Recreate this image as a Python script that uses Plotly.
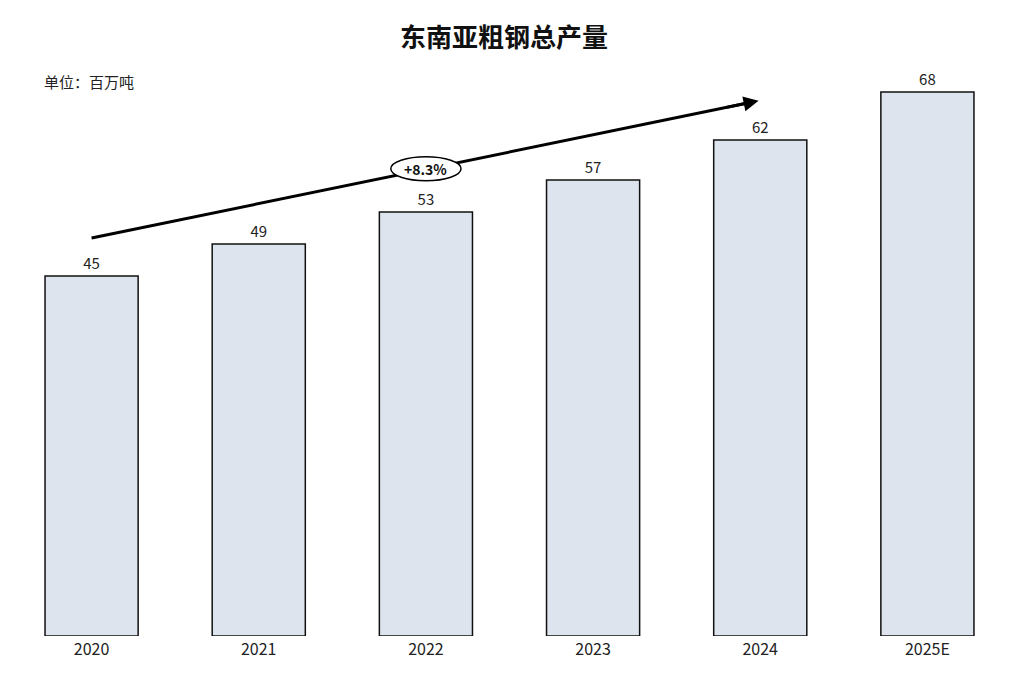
import plotly.graph_objects as go

years = ["2020", "2021", "2022", "2023", "2024", "2025E"]
production = [45, 49, 53, 57, 62, 68]
cagr_label = "+8.3%"
title_text = "东南亚粗钢总产量"
unit_text = "单位：百万吨"

FONT = "Noto Sans CJK SC, Microsoft YaHei, sans-serif"
xs = list(range(len(years)))

W, H = 1016, 676
L, R, T, B = 0, 13, 52, 48
pw, ph = W - L - R, H - T - B

fig = go.Figure()
fig.add_trace(go.Bar(
    x=xs, y=production,
    width=0.557,
    marker=dict(color="#DEE4EE", line=dict(color="#111111", width=1.5)),
    text=[str(v) for v in production],
    textposition="outside",
    textfont=dict(size=15, color="#222222", family=FONT),
    cliponaxis=False,
    hoverinfo="skip",
))

# trend arrow line
x_start, y_start = 0.0, 49.75
x_end, y_end = 3.99, 66.9
slope = (y_end - y_start) / (x_end - x_start)
fig.add_trace(go.Scatter(
    x=[x_start, x_end - 0.08], y=[y_start, y_end - 0.08 * slope],
    mode="lines", line=dict(color="#000000", width=3), hoverinfo="skip", cliponaxis=False,
))
# arrowhead
fig.add_annotation(
    x=x_end, y=y_end, ax=x_end - 0.2, ay=y_end - 0.2 * slope,
    xref="x", yref="y", axref="x", ayref="y",
    showarrow=True, arrowhead=2, arrowsize=1.0, arrowwidth=3,
    arrowcolor="#000000", text="",
)
# ellipse label
cx, cy = 2.0, 58.4
fig.add_shape(type="circle", xref="x", yref="y",
              x0=cx - 0.21, x1=cx + 0.21, y0=cy - 1.5, y1=cy + 1.5,
              fillcolor="white", line=dict(color="#000000", width=1.5), layer="above")
fig.add_annotation(x=cx, y=cy, xref="x", yref="y", text="<b>" + cagr_label + "</b>",
                   showarrow=False, font=dict(size=14, color="#111111", family=FONT))

fig.add_annotation(x=(34 - L) / pw, y=(T + ph - 73) / ph, xref="paper", yref="paper",
                   text=unit_text, showarrow=False, xanchor="left", yanchor="middle",
                   font=dict(size=15, color="#222222", family=FONT))

fig.update_layout(
    width=W, height=H,
    margin=dict(l=L, r=R, t=T, b=B, autoexpand=False),
    paper_bgcolor="white", plot_bgcolor="white",
    title=dict(text="<b>" + title_text + "</b>", x=496 / W, xanchor="center", y=1 - 30 / H,
               yanchor="middle", font=dict(size=26, color="#111111", family=FONT)),
    showlegend=False,
    xaxis=dict(tickmode="array", tickvals=xs, ticktext=years, range=[-0.5, 5.5],
               showgrid=False, zeroline=False, showline=False, ticks="",
               ticklabelstandoff=2,
               tickfont=dict(size=16, color="#222222", family=FONT)),
    yaxis=dict(range=[0, 72], visible=False, showgrid=False, zeroline=False),
)

fig.write_html("out.html")
